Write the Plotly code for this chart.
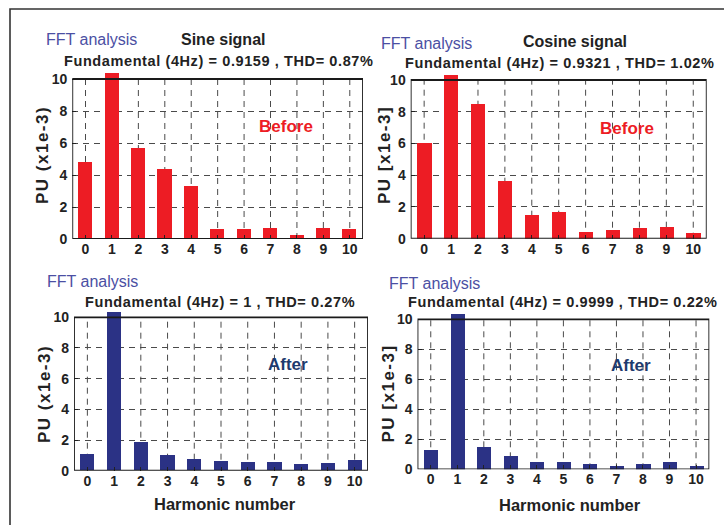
import plotly.graph_objects as go

# ---------------- data ----------------
harmonics = list(range(11))
tick_vals_y = [0, 2, 4, 6, 8, 10]

sine_before = [4.8, 10.39, 5.7, 4.39, 3.35, 0.64, 0.64, 0.72, 0.29, 0.72, 0.64]
cosine_before = [6.03, 10.3, 8.47, 3.66, 1.51, 1.68, 0.46, 0.55, 0.67, 0.76, 0.38]
sine_after = [1.07, 10.33, 1.87, 0.98, 0.76, 0.61, 0.54, 0.54, 0.39, 0.48, 0.70]
cosine_after = [1.33, 10.38, 1.49, 0.89, 0.55, 0.49, 0.40, 0.24, 0.40, 0.49, 0.24]

titles_main = ["Sine signal", "Cosine signal", "", ""]
titles_fund = [
    "Fundamental (4Hz) = 0.9159 , THD= 0.87%",
    "Fundamental (4Hz) = 0.9321 , THD= 1.02%",
    "Fundamental (4Hz) = 1 , THD= 0.27%",
    "Fundamental (4Hz) = 0.9999 , THD= 0.22%",
]
ylabels = ["PU (x1e-3)", "PU [x1e-3]", "PU (x1e-3)", "PU [x1e-3]"]
stage_labels = ["Before", "Before", "After", "After"]
xlabel = "Harmonic number"
fft_label = "FFT analysis"

# ---------------- style ----------------
W, H = 724, 525
RED = "#ED1C24"
BLUE = "#2B3285"
NAVY = "#1E3A6E"
FFT_COL = "#4B4FA3"
TXT = "#222222"
GRID = "#4a4a4a"
GRID_DASH = "6px,5px"
FONT = "Liberation Sans, Arial, Helvetica, sans-serif"
YTOP = 10.45
BARW = 0.53


def px(x):
    return x / W


def py(y):
    return 1 - y / H


def spaced(s, ls):
    return f'<span style="letter-spacing:{ls}px">{s}</span>'


# panel geometry in pixels: x_left, x_right, y(0) pixel, y(10) pixel
panels = [
    (72.3, 363.0, 239.0, 79.0),
    (410.7, 706.7, 238.7, 80.0),
    (74.0, 368.0, 470.7, 317.3),
    (417.5, 709.3, 469.3, 319.3),
]
series = [sine_before, cosine_before, sine_after, cosine_after]
colors = [RED, RED, BLUE, BLUE]
stage_colors = [RED, RED, NAVY, NAVY]

fig = go.Figure()
shapes = []
annotations = []

for i, (xl, xr, y0, y10) in enumerate(panels):
    ppu = (y0 - y10) / 10.0
    ytop_px = y0 - YTOP * ppu
    xa = "x" if i == 0 else f"x{i+1}"
    ya = "y" if i == 0 else f"y{i+1}"
    xkey = "xaxis" if i == 0 else f"xaxis{i+1}"
    ykey = "yaxis" if i == 0 else f"yaxis{i+1}"

    fig.add_trace(go.Bar(
        x=harmonics, y=series[i], width=BARW,
        marker=dict(color=colors[i], line=dict(width=0)),
        xaxis=xa, yaxis=ya, showlegend=False, hoverinfo="x+y",
    ))

    fig.layout[xkey] = dict(
        domain=[px(xl), px(xr)], anchor=ya, range=[-0.5, 10.5],
        tickvals=harmonics, showgrid=False, zeroline=False, showline=False,
        ticks="inside", ticklen=4, tickcolor="#222", tickwidth=1,
        tickfont=dict(family=FONT, size=14, color=TXT, weight="bold"),
        ticklabelstandoff=0, fixedrange=True, automargin=False,
    )
    fig.layout[ykey] = dict(
        domain=[py(y0), py(ytop_px)], anchor=xa, range=[0, YTOP],
        tickvals=tick_vals_y, showgrid=True, gridcolor=GRID,
        griddash=GRID_DASH, gridwidth=1, zeroline=False, showline=False,
        ticks="inside", ticklen=4, tickcolor="#222", tickwidth=1,
        tickfont=dict(family=FONT, size=14, color=TXT, weight="bold"),
        ticklabelstandoff=4, fixedrange=True, automargin=False,
    )

    # vertical dashed grid lines (stop at the top of the axes box)
    for h in harmonics:
        shapes.append(dict(type="line", xref=xa, yref=ya, x0=h, x1=h, y0=0, y1=10,
                           line=dict(color=GRID, width=1, dash=GRID_DASH),
                           layer="below"))
    # axes box
    shapes.append(dict(type="rect", xref=xa, yref=ya, x0=-0.5, x1=10.5, y0=0, y1=10,
                       line=dict(color="#1a1a1a", width=1.8), layer="above"))

# text positions (pixels)
fft_pos = [(44, 40), (379, 43), (45, 281), (387, 283)]
main_pos = [(223, 39), (575, 41), None, None]
fund_pos = [(218, 61), (559, 63), (220, 302), (562, 302)]
stage_pos = [(286, 126), (627, 128), (287.5, 364), (631, 365)]
ylab_pos = [(42, 155), (384, 155), (44, 394), (387.5, 394)]
xlab_pos = [None, None, (225, 504), (570, 505)]

for i in range(4):
    annotations.append(dict(text=fft_label, x=px(fft_pos[i][0]), y=py(fft_pos[i][1]),
                            xref="paper", yref="paper", xanchor="left", yanchor="middle",
                            showarrow=False, font=dict(family=FONT, size=16, color=FFT_COL)))
    if main_pos[i]:
        annotations.append(dict(text=titles_main[i], x=px(main_pos[i][0]), y=py(main_pos[i][1]),
                                xref="paper", yref="paper", xanchor="center", yanchor="middle",
                                showarrow=False,
                                font=dict(family=FONT, size=16, color=TXT, weight="bold")))
    annotations.append(dict(text=spaced(titles_fund[i], 0.6), x=px(fund_pos[i][0]),
                            y=py(fund_pos[i][1]),
                            xref="paper", yref="paper", xanchor="center", yanchor="middle",
                            showarrow=False,
                            font=dict(family=FONT, size=14.5, color=TXT, weight="bold")))
    annotations.append(dict(text=stage_labels[i], x=px(stage_pos[i][0]), y=py(stage_pos[i][1]),
                            xref="paper", yref="paper", xanchor="center", yanchor="middle",
                            showarrow=False,
                            font=dict(family=FONT, size=17, color=stage_colors[i], weight="bold")))
    annotations.append(dict(text=spaced(ylabels[i], 1.5), x=px(ylab_pos[i][0]),
                            y=py(ylab_pos[i][1]),
                            xref="paper", yref="paper", xanchor="center", yanchor="middle",
                            textangle=-90, showarrow=False,
                            font=dict(family=FONT, size=17, color=TXT, weight="bold")))
    if xlab_pos[i]:
        annotations.append(dict(text=xlabel, x=px(xlab_pos[i][0]), y=py(xlab_pos[i][1]),
                                xref="paper", yref="paper", xanchor="center", yanchor="middle",
                                showarrow=False,
                                font=dict(family=FONT, size=16.5, color=TXT, weight="bold")))

# outer frame (only left and top edges are visible in the picture)
shapes.append(dict(type="rect", xref="paper", yref="paper",
                   x0=px(10), x1=px(W + 20), y0=py(H + 20), y1=py(9),
                   line=dict(color="#333333", width=1.6), layer="above"))

fig.update_layout(
    width=W, height=H, autosize=False,
    margin=dict(l=0, r=0, t=0, b=0, pad=0, autoexpand=False),
    paper_bgcolor="white", plot_bgcolor="white",
    shapes=shapes, annotations=annotations,
    bargap=0, showlegend=False,
    font=dict(family=FONT, color=TXT),
)

fig.write_html(
    "out.html",
    config={"displayModeBar": False, "staticPlot": False},
    post_script="document.body.style.margin='0';document.body.style.overflow='hidden';",
)
